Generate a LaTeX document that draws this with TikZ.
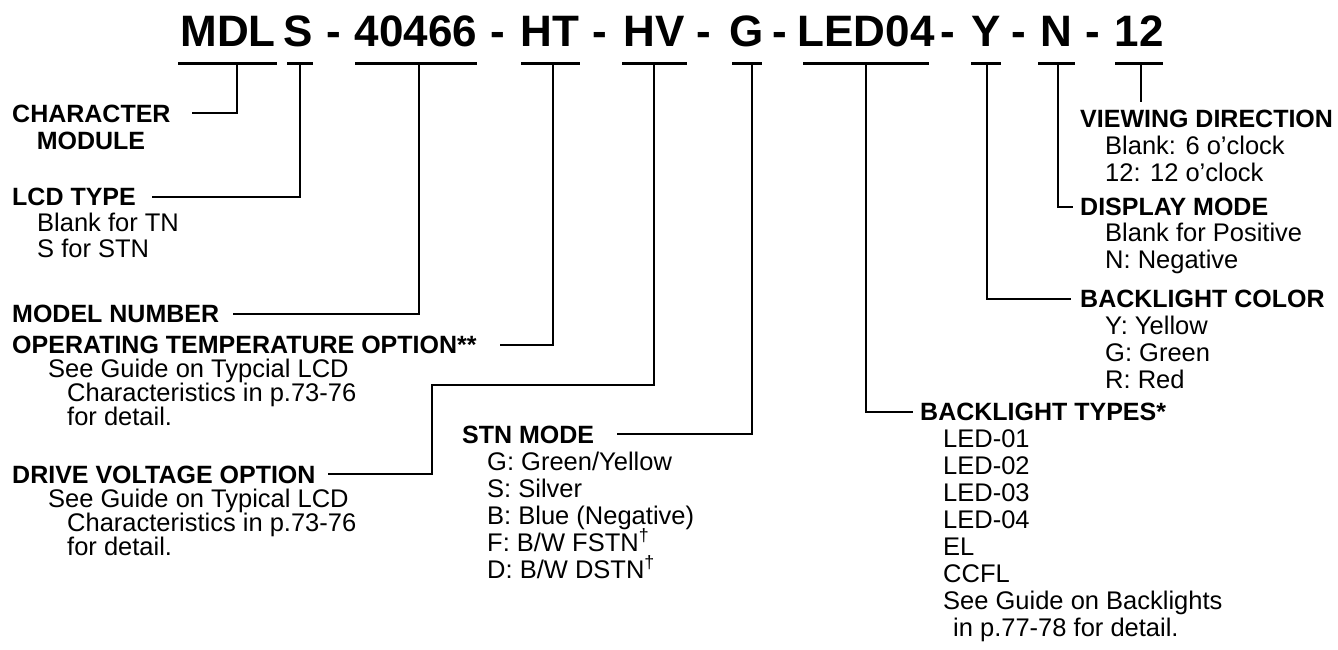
\documentclass[tikz,border=0pt]{standalone}
\usepackage{fontspec}
\setmainfont{Liberation Sans}
\begin{document}
\begin{tikzpicture}[x=1pt,y=-1pt,
  hd/.style={font=\fontsize{25}{27}\selectfont\bfseries, inner sep=0pt, anchor=base west},
  bd/.style={font=\fontsize{25.5}{27}\selectfont, inner sep=0pt, anchor=base west},
  ttl/.style={font=\fontsize{44}{48}\selectfont\bfseries, inner sep=0pt, anchor=base},
  uline/.style={line width=3pt},
  conn/.style={line width=2.2pt}]
\useasboundingbox (0,0) rectangle (1338,649);
\fill[white] (0,0) rectangle (1338,649);

% ---- title segments ----
\node[ttl] (tMDL) at (228,46) {MDL};
\node[ttl] (tS) at (298,46) {S};
\node[ttl] (d1) at (334,46) {-};
\node[ttl] (t40466) at (416,46) {40466};
\node[ttl] (d2) at (498,46) {-};
\node[ttl] (tHT) at (550,46) {HT};
\node[ttl] (d3) at (600,46) {-};
\node[ttl] (tHV) at (654,46) {HV};
\node[ttl] (d4) at (704,46) {-};
\node[ttl] (tG) at (747,46) {G};
\node[ttl] (d5) at (780,46) {-};
\node[ttl] (tLED) at (866,46) {LED04};
\node[ttl] (d6) at (948,46) {-};
\node[ttl] (tY) at (986,46) {Y};
\node[ttl] (d7) at (1019,46) {-};
\node[ttl] (tN) at (1056,46) {N};
\node[ttl] (d8) at (1093,46) {-};
\node[ttl] (t12) at (1139,46) {12};

% ---- underlines ----
\draw[uline] (178,63) -- (277,63);
\draw[uline] (287,63) -- (313,63);
\draw[uline] (355,63) -- (477,63);
\draw[uline] (521,63) -- (580,63);
\draw[uline] (622,63) -- (687,63);
\draw[uline] (732,63) -- (762,63);
\draw[uline] (803,63) -- (929,63);
\draw[uline] (971,63) -- (1001,63);
\draw[uline] (1038,63) -- (1075,63);
\draw[uline] (1115,63) -- (1163,63);

% ---- tick origins ----
\coordinate (k1) at (237,63);
\coordinate (k2) at (300,63);
\coordinate (k3) at (419,63);
\coordinate (k4) at (553,63);
\coordinate (k5) at (654,63);
\coordinate (k6) at (752,63);
\coordinate (k7) at (866,63);
\coordinate (k8) at (987,63);
\coordinate (k9) at (1058,63);
\coordinate (k10) at (1141,63);

% ---- left labels ----
\node[hd] (cha) at (12,122) {CHARACTER};
\node[hd, anchor=base] (mod) at (91,149) {MODULE};
\coordinate (e1) at (192,113);

\node[hd] (lcd) at (12,205) {LCD TYPE};
\node[bd] (lcd1) at (37,231) {Blank for TN};
\node[bd] (lcd2) at (37,257) {S for STN};
\coordinate (e2) at (152,197);

\node[hd] (mdn) at (12,322) {MODEL NUMBER};
\coordinate (e3) at (233,314);

\node[hd] (opt) at (12,353) {OPERATING TEMPERATURE OPTION**};
\node[bd] (opt1) at (48,377) {See Guide on Typcial LCD};
\node[bd] (opt2) at (67,401) {Characteristics in p.73-76};
\node[bd] (opt3) at (67,425) {for detail.};
\coordinate (e4) at (500,345);

\node[hd] (drv) at (12,483) {DRIVE VOLTAGE OPTION};
\node[bd] (drv1) at (48,507) {See Guide on Typical LCD};
\node[bd] (drv2) at (67,531) {Characteristics in p.73-76};
\node[bd] (drv3) at (67,555) {for detail.};
\coordinate (e5a) at (432,385);
\coordinate (e5) at (328,474);

% ---- STN mode ----
\node[hd] (stn) at (462,443) {STN MODE};
\node[bd] (stn1) at (487,470) {G: Green/Yellow};
\node[bd] (stn2) at (487,497) {S: Silver};
\node[bd] (stn3) at (487,524) {B: Blue (Negative)};
\node[bd] (stn4) at (487,551) {F: B/W FSTN\textsuperscript{†}};
\node[bd] (stn5) at (487,578) {D: B/W DSTN\textsuperscript{†}};
\coordinate (e6) at (617,434);

% ---- backlight types ----
\node[hd] (blt) at (920,420) {BACKLIGHT TYPES*};
\node[bd] (blt1) at (943,447) {LED-01};
\node[bd] (blt2) at (943,474) {LED-02};
\node[bd] (blt3) at (943,501) {LED-03};
\node[bd] (blt4) at (943,528) {LED-04};
\node[bd] (blt5) at (943,555) {EL};
\node[bd] (blt6) at (943,582) {CCFL};
\node[bd] (blt7) at (943,609) {See Guide on Backlights};
\node[bd] (blt8) at (953,636) {in p.77-78 for detail.};
\coordinate (e7) at (913,412);

% ---- backlight color ----
\node[hd] (blc) at (1080,307) {BACKLIGHT COLOR};
\node[bd] (blc1) at (1105,334) {Y: Yellow};
\node[bd] (blc2) at (1105,361) {G: Green};
\node[bd] (blc3) at (1105,388) {R: Red};
\coordinate (e8) at (1071,299);

% ---- display mode ----
\node[hd] (dsp) at (1080,215) {DISPLAY MODE};
\node[bd] (dsp1) at (1105,241) {Blank for Positive};
\node[bd] (dsp2) at (1105,268) {N: Negative};
\coordinate (e9) at (1073,207);

% ---- viewing direction ----
\node[hd] (vwd) at (1080,127) {VIEWING DIRECTION};
\node[bd] (vwd1) at (1105,154) {Blank: 6 o’clock};
\node[bd] (vwd2) at (1105,181) {12: 12 o’clock};
\coordinate (e10) at (1141,102);

% ---- connectors ----
\draw[conn] (k1) |- (e1);
\draw[conn] (k2) |- (e2);
\draw[conn] (k3) |- (e3);
\draw[conn] (k4) |- (e4);
\draw[conn] (k5) |- (e5a) |- (e5);
\draw[conn] (k6) |- (e6);
\draw[conn] (k7) |- (e7);
\draw[conn] (k8) |- (e8);
\draw[conn] (k9) |- (e9);
\draw[conn] (k10) -- (e10);
\end{tikzpicture}
\end{document}
